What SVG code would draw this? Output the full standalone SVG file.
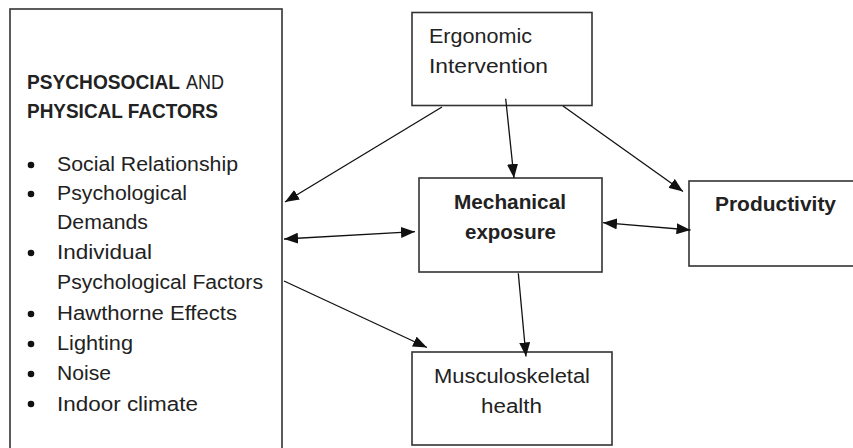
<svg xmlns="http://www.w3.org/2000/svg" width="853" height="448" viewBox="0 0 853 448">
<defs>
<style>
.box{fill:#fff;stroke:#333;stroke-width:1.6}
.t{font-family:"Liberation Sans",Arial,sans-serif;font-size:20px;fill:#222}
.b{font-weight:bold}
.c{text-anchor:middle}
.ln{stroke:#111;stroke-width:1.3;fill:none}
.dot{fill:#111}
</style>
<marker id="ah" viewBox="0 0 14 11" refX="14" refY="5.5" markerWidth="14" markerHeight="11" markerUnits="userSpaceOnUse" orient="auto-start-reverse">
<path d="M0,0 L14,5.5 L0,11 Z" fill="#111"/>
</marker>
</defs>
<rect width="853" height="448" fill="#fff"/>
<g id="factors">
<rect class="box" x="10" y="9" width="272" height="445"/>
<text class="t b" x="27" y="89" textLength="153" lengthAdjust="spacingAndGlyphs">PSYCHOSOCIAL</text>
<text class="t" x="186" y="89" textLength="38" lengthAdjust="spacingAndGlyphs">AND</text>
<text class="t b" x="27" y="118" textLength="191" lengthAdjust="spacingAndGlyphs">PHYSICAL FACTORS</text>
<circle class="dot" cx="31" cy="165" r="3.3"/>
<text class="t" x="57" y="171" textLength="181" lengthAdjust="spacingAndGlyphs">Social Relationship</text>
<circle class="dot" cx="31" cy="194" r="3.3"/>
<text class="t" x="57" y="200" textLength="130" lengthAdjust="spacingAndGlyphs">Psychological</text>
<text class="t" x="57" y="229" textLength="91" lengthAdjust="spacingAndGlyphs">Demands</text>
<circle class="dot" cx="31" cy="253" r="3.3"/>
<text class="t" x="57" y="259" textLength="95" lengthAdjust="spacingAndGlyphs">Individual</text>
<text class="t" x="57" y="289" textLength="206" lengthAdjust="spacingAndGlyphs">Psychological Factors</text>
<circle class="dot" cx="31" cy="314" r="3.3"/>
<text class="t" x="57" y="320" textLength="180" lengthAdjust="spacingAndGlyphs">Hawthorne Effects</text>
<circle class="dot" cx="31" cy="344" r="3.3"/>
<text class="t" x="57" y="350" textLength="76" lengthAdjust="spacingAndGlyphs">Lighting</text>
<circle class="dot" cx="31" cy="374" r="3.3"/>
<text class="t" x="57" y="380" textLength="54" lengthAdjust="spacingAndGlyphs">Noise</text>
<circle class="dot" cx="31" cy="404" r="3.3"/>
<text class="t" x="57" y="410.5" textLength="141" lengthAdjust="spacingAndGlyphs">Indoor climate</text>
</g>
<g id="ergonomic">
<rect class="box" x="412" y="12.5" width="180" height="93"/>
<text class="t" x="429" y="43" textLength="103" lengthAdjust="spacingAndGlyphs">Ergonomic</text>
<text class="t" x="429" y="73" textLength="119" lengthAdjust="spacingAndGlyphs">Intervention</text>
</g>
<g id="mechanical">
<rect class="box" x="419" y="178" width="183" height="94"/>
<text class="t b c" x="510" y="209" textLength="112" lengthAdjust="spacingAndGlyphs">Mechanical</text>
<text class="t b c" x="510.5" y="239" textLength="91" lengthAdjust="spacingAndGlyphs">exposure</text>
</g>
<g id="productivity">
<rect class="box" x="689" y="181" width="180" height="85"/>
<text class="t b" x="715" y="210.5" textLength="121" lengthAdjust="spacingAndGlyphs">Productivity</text>
</g>
<g id="musculoskeletal">
<rect class="box" x="412" y="352" width="200" height="93"/>
<text class="t" x="434" y="382.5" textLength="156" lengthAdjust="spacingAndGlyphs">Musculoskeletal</text>
<text class="t c" x="511.5" y="412.5" textLength="61" lengthAdjust="spacingAndGlyphs">health</text>
</g>
<g id="connectors">
<line class="ln" x1="442" y1="107" x2="285" y2="202" marker-end="url(#ah)"/>
<line class="ln" x1="505.7" y1="98.7" x2="514" y2="178" marker-end="url(#ah)"/>
<line class="ln" x1="563" y1="106" x2="683" y2="191.5" marker-end="url(#ah)"/>
<line class="ln" x1="603" y1="222.7" x2="690.5" y2="230" marker-start="url(#ah)" marker-end="url(#ah)"/>
<line class="ln" x1="284" y1="239" x2="415" y2="231.7" marker-start="url(#ah)" marker-end="url(#ah)"/>
<line class="ln" x1="284" y1="281" x2="427" y2="347.5" marker-end="url(#ah)"/>
<line class="ln" x1="518.3" y1="273.3" x2="526" y2="356.5" marker-end="url(#ah)"/>
</g>
</svg>
